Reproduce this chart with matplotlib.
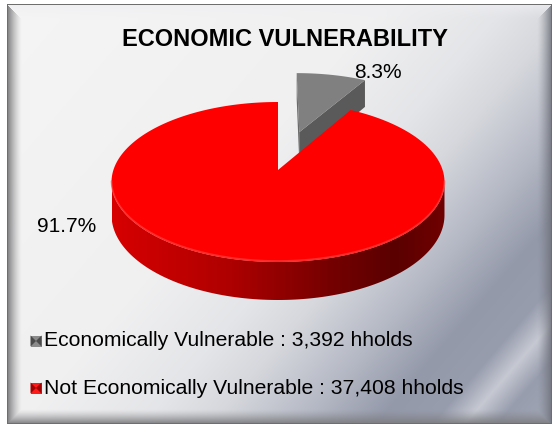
import numpy as np
import matplotlib
matplotlib.use("Agg")
import matplotlib.pyplot as plt
from matplotlib.patches import Polygon

# data
categories = ["Economically Vulnerable", "Not Economically Vulnerable"]
households = [3392, 37408]
slice_colors = ["#808080", "#ff0000"]
side_colors = ["#5a5a5a", "#b00000"]
explode = [0.54, 0.0]

W, H = 558, 429
plt.rcParams['font.family'] = ['Liberation Sans', 'DejaVu Sans']

fig = plt.figure(figsize=(W / 100, H / 100), dpi=100)
ax = fig.add_axes([0, 0, 1, 1])
ax.set_xlim(0, W)
ax.set_ylim(H, 0)
ax.axis('off')


def background():
    yy, xx = np.mgrid[0:H, 0:W] + 0.5
    t = 0.6 * xx / W + 0.4 * yy / H
    st = [0, 0.42, 0.55, 0.62, 0.72, 0.80, 0.86, 0.895, 0.93, 1.0]
    cols = np.array([(245, 245, 245), (240, 240, 241), (228, 229, 232), (214, 216, 221),
                     (180, 184, 196), (148, 153, 170), (152, 157, 174), (198, 201, 210),
                     (152, 157, 174), (165, 170, 184)], float)
    img = np.dstack([np.interp(t, st, cols[:, c]) for c in range(3)])

    # bevel frame
    x0, x1, y0, y1, b = 7, 552, 4, 424, 15.0
    dl, dr, dt, db = xx - x0, x1 - xx, yy - y0, y1 - yy
    d = np.stack([dt, dl, dr, db])
    m = d.min(axis=0)
    edge = d.argmin(axis=0)
    f = np.clip(1 - m / b, 0, 1)
    shade = {0: ((238, 238, 242), 0.75), 1: ((120, 120, 122), 1.0),
             2: ((110, 113, 122), 0.9), 3: ((125, 125, 128), 1.0)}
    for e, (c, a) in shade.items():
        mask = (edge == e) & (m < b) & (m >= 0)
        w = (f[mask] ** 1.4 * a)[:, None]
        img[mask] = img[mask] * (1 - w) + np.array(c) * w
    img[m < 0] = 255
    img[(m >= 0) & (m < 1.2)] = (110, 110, 110)
    return img.astype(np.uint8)


ax.imshow(background(), extent=[0, W, H, 0], zorder=0, interpolation='bilinear')

# pie geometry (perspective projection of a tilted disc)
cx, cy, RX, RY, K, D0 = 278, 170, 164.6, 78.2, 0.15, 32.3


def proj(u, v, down=False):
    s = 1 / (1 + K * v)
    x = cx + RX * u * s
    y = cy - RY * v * s
    if down:
        y = y + D0 * s
    return x, y


total = sum(households)
fracs = [h / total for h in households]
bounds = np.concatenate([[0], np.cumsum(fracs) * 360])
sil0 = np.degrees(np.arccos(-K))
sil1 = 360 - sil0

for i in range(len(households)):
    th0, th1 = bounds[i], bounds[i + 1]
    mid = np.radians((th0 + th1) / 2)
    ou, ov = explode[i] * np.sin(mid), explode[i] * np.cos(mid)
    z = 2 if i == 0 else 4

    def rim(th, down=False):
        r = np.radians(th)
        return proj(ou + np.sin(r), ov + np.cos(r), down)

    # radial cut faces (only the exploded slice shows them)
    if i == 0:
        for th, col in ((th0, "#6b6b6b"), (th1, side_colors[i])):
            pts = [proj(ou, ov), rim(th), rim(th, True), proj(ou, ov, True)]
            ax.add_patch(Polygon(pts, closed=True, fc=col, ec='none', zorder=z))

    # outer side band (front part)
    a0, a1 = max(th0, sil0), min(th1, sil1)
    if a1 > a0:
        ths = np.linspace(a0, a1, 200)
        top = [rim(t) for t in ths]
        bot = [rim(t, True) for t in ths[::-1]]
        band = Polygon(top + bot, closed=True, fc='none', ec='none')
        ax.add_patch(band)
        gx = np.linspace(0, 1, 256)
        gr = np.interp(gx, [0, 0.35, 0.65, 0.85, 1.0], [215, 175, 118, 90, 112])
        grad = np.zeros((2, 256, 3))
        grad[..., 0] = gr / 255
        xs = [p[0] for p in top]
        ys = [p[1] for p in top + bot]
        im = ax.imshow(grad, extent=[min(xs), max(xs), max(ys), min(ys)],
                       aspect='auto', zorder=z + 0.5, interpolation='bilinear')
        im.set_clip_path(band)
        # soft rim highlight
        ax.plot([p[0] for p in top], [p[1] - 1.0 for p in top], color="#ff4a4a",
                lw=1.2, alpha=0.6, zorder=z + 1.5, solid_capstyle='round')

    # top face
    ths = np.linspace(th0, th1, 300)
    pts = [proj(ou, ov)] + [rim(t) for t in ths]
    ax.add_patch(Polygon(pts, closed=True, fc=slice_colors[i], ec='none', zorder=z + 1))

# data labels
ax.text(378, 72, f"{fracs[0] * 100:.1f}%", fontsize=15, ha='center', va='center', zorder=10)
ax.text(67, 226, f"{fracs[1] * 100:.1f}%", fontsize=15, ha='center', va='center', zorder=10)

# title
ax.text(285, 40, "ECONOMIC VULNERABILITY", fontsize=17, fontweight='bold',
        ha='center', va='center', zorder=10)

# legend
rows = [341, 388]
marker_cols = [("#8a8a8a", "#4a4a4a"), ("#ff1a1a", "#a00000")]
for i, cat in enumerate(categories):
    yc, xc, h = rows[i], 36, 5.5
    light, dark = marker_cols[i]
    ax.add_patch(Polygon([(xc - h, yc - h), (xc + h, yc - h), (xc + h, yc + h), (xc - h, yc + h)],
                         closed=True, fc=light, ec='none', zorder=10))
    for tri in ([(xc - h, yc - h), (xc - h, yc + h), (xc, yc)],
                [(xc + h, yc - h), (xc + h, yc + h), (xc, yc)]):
        ax.add_patch(Polygon(tri, closed=True, fc=dark, ec='none', zorder=11))
    ax.text(44, yc, f"{cat} : {households[i]:,} hholds", fontsize=15.2,
            ha='left', va='center', zorder=10)

fig.savefig("out.png", dpi=100)
